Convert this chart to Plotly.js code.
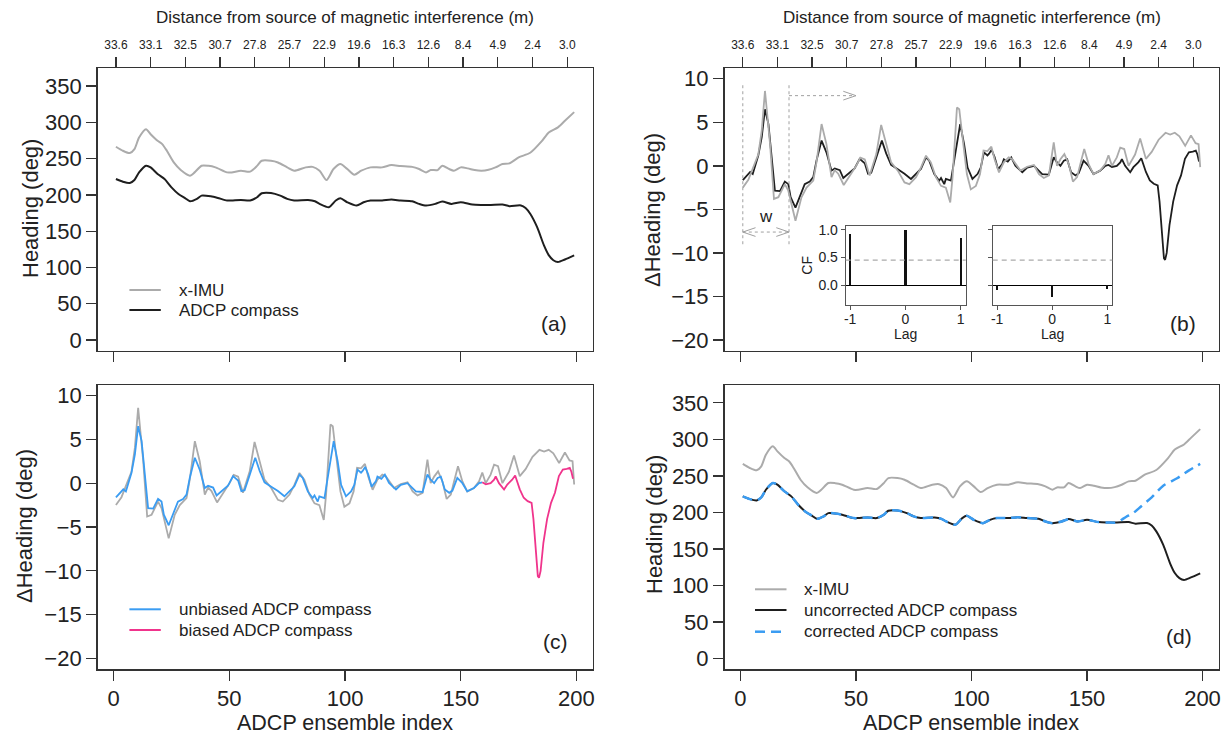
<!DOCTYPE html>
<html>
<head>
<meta charset="utf-8">
<script src="https://cdn.plot.ly/plotly-3.0.1.min.js"></script>
<style>html,body{margin:0;padding:0;background:#fff;}#chart{width:1228px;height:735px;}</style>
</head>
<body>
<div id="chart"></div>
<script>
// ---------------- data ----------------
const ENS_TICKS = [0, 50, 100, 150, 200];
const TOP_IDX = [1, 16, 31, 46, 61, 76, 91, 106, 121, 136, 151, 166, 181, 196];
const TOP_LABELS = ['33.6','33.1','32.5','30.7','27.8','25.7','22.9','19.6','16.3','12.6','8.4','4.9','2.4','3.0'];

// Heading (deg), x-IMU
const IMU_X = [1,4,7,9,11,14,16,19,21,23,26,29,33,35,38,41,44,49,51,55,59,62,64,68,71,75,78,83,86,89,92,95,98,101,104,107,111,116,120,124,129,132,135,137,140,142,145,147,150,153,156,159,162,165,168,171,175,180,185,188,192,195,199];
const IMU_H = [266.3,260.8,257.6,263,279,290.5,283.6,274.5,270,260.8,244.7,234.3,226.5,231,240.2,240,237.9,231,231,233.3,232,240,247,247,244.7,237.9,233.3,237.9,238.6,233.3,220.5,235.6,242.5,235.6,227.8,233.3,237.9,237.9,241.1,239.7,238.6,235.6,231,234.2,234.2,240.2,235.6,233.3,237.9,236.5,234.2,233.3,234.6,237.9,242.5,243.4,251.6,258,274,286,293,302,314];

// Heading (deg), ADCP compass (uncorrected)
const ADCP_X = [1,4,7,9,11,14,16,19,22,25,28,31,33,36,38,42,45,49,51,55,59,62,64,68,72,75,78,84,87,89,93,96,98,101,105,108,111,116,120,124,129,132,135,139,142,146,150,155,159,163,168,171,176,178,180,183,186,188,190,192,195,199];
const ADCP_H = [221.9,218.2,216.4,220.5,231,240.2,237.9,228.8,221.9,210.4,201.3,195.3,191.2,194.5,199,198,195.8,192.2,192.2,193,192.2,196.7,202.2,202.6,199,194.5,192.2,193,191.2,187.6,183,192.2,195.3,189.8,185.3,189.8,192.2,192.2,193.5,192.2,191.2,187.6,185.3,187.6,190.8,187.6,189.8,186.7,186.2,186.2,186.7,184.5,185.5,182,174,155.5,130,117,110,107.5,111,116.6];

// Corrected ADCP compass: departs from the uncorrected record from this index on
const CORR_FROM = 163;
const CORR_X = [163,165,167,170,173,178,183,189,194,199];
const CORR_H = [186.2,190,194,199,207,220.6,236.6,246.7,257.2,266.3];

// Delta heading (deg), x-IMU
const DIMU_X = [1,3.4,7.7,9.2,10.6,12.8,14.5,16.4,19.2,20.7,23.8,26.4,28.6,31.5,32.9,35.1,37.2,39.4,40.8,42.3,44.7,47.3,50.1,51.9,53.8,55.9,58.8,60.9,63.1,65.2,68.1,71,73.1,76,78.1,80.3,82.4,84.6,86.8,88.9,90.8,91.8,93.7,94.7,96.1,98,99.7,101.9,103.7,105.2,106.9,108.6,110,111.9,114,116.1,117.6,121.2,124.1,127,129.2,131.3,133.5,135.6,137,138.5,140.2,142.1,143.9,145.7,147.1,148.8,150.7,152.8,155.7,157.9,159.3,160.8,162.9,164.4,166.1,168,170.8,173,175.5,178,181,184,186,188,190,192.5,195,197,198.3,199];
const DIMU_Y = [-2.5,-1.6,1.3,4.05,8.6,2.5,-3.8,-3.6,-2.1,-2.85,-6.3,-3.6,-2.5,-1.7,0.4,4.8,2.5,-1.3,-0.5,-0.9,-2.2,-1.1,0,0.95,0.75,-1.1,1.35,4.7,2.5,0.4,-0.55,-1.9,-2.1,-1.3,-0.2,1.17,0.4,-1.3,-2.3,-2.5,-4.2,-1.3,6.7,6.5,3.3,-0.94,-2.7,-2.3,-0.94,1.75,1.7,2.2,0.75,-0.75,0.4,0.97,0.8,-0.55,-0.1,0.1,-0.94,-1.4,-1.1,2.7,0,0.75,1.35,0.2,-1.8,-1.3,0.2,1.93,0.2,-0.94,-0.55,0.2,1.2,0,0.97,2.1,1.93,0,1.3,3.15,0.8,1.6,3.0,3.8,3.6,3.8,3.4,2.3,3.5,2.6,2.5,-0.15];

// Delta heading (deg), ADCP compass
const DADCP_X = [1,3.4,4.2,5.3,7.7,9.2,10.6,12.1,13.5,14.9,17.1,19.2,20.7,21.7,23.8,25.7,27.8,30,31.5,32.9,35.1,37.2,39.4,40.8,43,44.5,46.6,49.4,51.6,53.8,55.2,56.6,58.8,61.2,63.1,65.2,68.1,71,73.8,76,78.1,80.3,81.7,83.9,86,86.8,88.2,88.9,91.1,93.2,95.1,96.8,98.3,100.4,102.6,104,105.4,106.9,107.6,108.7,110,111.5,113.3,114,115.7,117.2,119,122,124.1,127,128.5,130.6,133.5,135.6,137,138.5,140,141.4,143.1,145,146.4,148.5,150.7,152.8,155.7,157.9,159.3,160.8,162.9,164.4,165.1,166.5,168.7,170.1,172.2,173.5,175.5,177.2,178.9,180.6,181.4,182,182.6,183.3,183.8,184.5,185.7,187.3,189,190.7,192.4,194.1,195.8,197.1,197.8,198.5];
const DADCP_Y = [-1.63,-0.94,-0.7,-0.94,1.17,3.3,6.5,4.8,0.6,-2.85,-2.9,-1.8,-2.1,-3.6,-4.8,-3.4,-2.1,-1.8,-1.3,0.6,2.9,1.55,-0.55,-0.3,-0.5,-1.4,-0.9,-0.3,0.8,0.3,-0.9,-0.8,0.95,2.9,1.4,0.1,-0.4,-0.9,-1.5,-0.9,-0.36,0.98,0.6,-0.94,-1.7,-1.4,-2.1,-1.5,-1.7,1.75,4.8,2.5,-0.2,-1.5,-0.94,-0.2,1.55,1.2,1.4,1.85,1.0,-0.4,0.2,0.75,0.5,0.97,0.02,-0.73,-0.2,0,-0.4,-0.94,-1.0,0.98,0.4,0,0.6,0.75,-0.73,-1.1,-0.85,0.6,0,-0.94,-0.55,0,0.1,-0.13,0,0.4,0.76,0,-0.73,-0.15,0.4,0.87,-0.7,-1.67,-2.05,-2.24,-4.1,-6.2,-8.7,-10.6,-10.8,-10.0,-6.8,-4.1,-2.24,-1.1,0.8,1.56,1.63,1.75,1.3,0.5];
// first index of the biased part of the ADCP record
const BIAS_FROM = 159.3;

// Cross-correlation insets
const LAGS = [-1, 0, 1];
const CF_LEFT = [0.92, 1.0, 0.85];
const CF_RIGHT = [-0.08, -0.2, -0.07];
const CF_LIMIT = 0.455;

// ---------------- helpers ----------------
const W = 1228, H = 735;
const px = v => v / W;
const py = v => 1 - v / H;
const FONT = 'Liberation Sans, Arial, Helvetica, sans-serif';
const TXT = '#222';
const XR = [-6.92, 206.92];
const HR = [-14.4, 374.4];
const DR = [-21.2, 11.2];
const A_X = [px(97.6), px(592.5)];
const B_X = [px(724.5), px(1218.5)];
const TOP_Y = [py(350.5), py(68.3)];
const BOT_Y = [py(669), py(385)];

const GRAY = '#ababab', BLACK = '#1e1e1e', BLUE = '#3a9cf2', PINK = '#f0348c';

function box(extra) {
  return Object.assign({
    showline: true, mirror: true, linecolor: '#333', linewidth: 1.5,
    ticks: 'outside', ticklen: 10, tickwidth: 1.3, tickcolor: '#333',
    showgrid: false, zeroline: false, fixedrange: true,
    tickfont: {family: FONT, size: 22, color: TXT}
  }, extra);
}
function topAxis(over, anchor) {
  return {
    overlaying: over, anchor: anchor, side: 'top', range: XR,
    tickmode: 'array', tickvals: TOP_IDX, ticktext: TOP_LABELS,
    ticks: 'outside', ticklen: 10, tickwidth: 1.3, tickcolor: '#333',
    showline: false, showgrid: false, zeroline: false,
    tickfont: {family: FONT, size: 12, color: TXT}, ticklabelstandoff: 4
  };
}
function inset(dom, anchor, labels) {
  return {
    x: {domain: dom, anchor: anchor.y, range: [-1.08, 1.09], tickmode: 'array', tickvals: LAGS,
        ticktext: LAGS.map(String), showline: true, mirror: true, linecolor: '#555', linewidth: 1,
        ticks: 'outside', ticklen: 4, tickcolor: '#555', showgrid: false, zeroline: false,
        ticklabelstandoff: -3,
        tickfont: {family: FONT, size: 14, color: TXT}},
    y: {domain: [py(305), py(225.7)], anchor: anchor.x, range: [-0.35, 1.07], tickmode: 'array',
        tickvals: [0, 0.5, 1], ticktext: ['0.0', '0.5', '1.0'], showticklabels: labels,
        showline: true, mirror: true, linecolor: '#555', linewidth: 1,
        ticks: 'outside', ticklen: 4, tickcolor: '#555', showgrid: false,
        zeroline: true, zerolinecolor: '#000', zerolinewidth: 1.3,
        tickfont: {family: FONT, size: 14, color: TXT}}
  };
}

// splits
const blueX = [], blueY = [], pinkX = [], pinkY = [];
DADCP_X.forEach((x, k) => {
  if (x <= BIAS_FROM) { blueX.push(x); blueY.push(DADCP_Y[k]); }
  if (x >= BIAS_FROM) { pinkX.push(x); pinkY.push(DADCP_Y[k]); }
});
const corrX = [], corrY = [];
ADCP_X.forEach((x, k) => { if (x < CORR_FROM) { corrX.push(x); corrY.push(ADCP_H[k]); } });
CORR_X.forEach((x, k) => { corrX.push(x); corrY.push(CORR_H[k]); });

const sm = {shape: 'spline', smoothing: 0.7};
const traces = [
  // (a)
  {x: IMU_X, y: IMU_H, xaxis: 'x5', yaxis: 'y', mode: 'lines', line: Object.assign({color: GRAY, width: 2}, sm), hoverinfo: 'skip'},
  {x: ADCP_X, y: ADCP_H, xaxis: 'x', yaxis: 'y', mode: 'lines', line: Object.assign({color: BLACK, width: 2}, sm), hoverinfo: 'skip'},
  // (b)
  {x: DIMU_X, y: DIMU_Y, xaxis: 'x6', yaxis: 'y2', mode: 'lines', line: {color: GRAY, width: 1.8}, hoverinfo: 'skip'},
  {x: DADCP_X, y: DADCP_Y, xaxis: 'x2', yaxis: 'y2', mode: 'lines', line: {color: BLACK, width: 1.8}, hoverinfo: 'skip'},
  // (c)
  {x: DIMU_X, y: DIMU_Y, xaxis: 'x3', yaxis: 'y3', mode: 'lines', line: {color: GRAY, width: 1.8}, hoverinfo: 'skip'},
  {x: blueX, y: blueY, xaxis: 'x3', yaxis: 'y3', mode: 'lines', line: {color: BLUE, width: 1.8}, hoverinfo: 'skip'},
  {x: pinkX, y: pinkY, xaxis: 'x3', yaxis: 'y3', mode: 'lines', line: {color: PINK, width: 1.8}, hoverinfo: 'skip'},
  // (d)
  {x: IMU_X, y: IMU_H, xaxis: 'x4', yaxis: 'y4', mode: 'lines', line: Object.assign({color: GRAY, width: 2}, sm), hoverinfo: 'skip'},
  {x: ADCP_X, y: ADCP_H, xaxis: 'x4', yaxis: 'y4', mode: 'lines', line: Object.assign({color: BLACK, width: 2}, sm), hoverinfo: 'skip'},
  {x: corrX, y: corrY, xaxis: 'x4', yaxis: 'y4', mode: 'lines', line: Object.assign({color: BLUE, width: 2.5, dash: '10px,6px'}, sm), hoverinfo: 'skip'},
  // insets
  {type: 'bar', x: LAGS, y: CF_LEFT, xaxis: 'x7', yaxis: 'y7', width: 0.04, marker: {color: '#111'}, hoverinfo: 'skip'},
  {type: 'bar', x: LAGS, y: CF_RIGHT, xaxis: 'x8', yaxis: 'y8', width: 0.04, marker: {color: '#111'}, hoverinfo: 'skip'}
];

const in1 = inset([px(845.7), px(965.7)], {x: 'x7', y: 'y7'}, true);
const in2 = inset([px(992.7), px(1112.3)], {x: 'x8', y: 'y8'}, false);

const layout = {
  width: W, height: H, margin: {l: 0, r: 0, t: 0, b: 0},
  paper_bgcolor: '#fff', plot_bgcolor: '#fff', showlegend: false,
  font: {family: FONT, color: TXT},
  xaxis: box({domain: A_X, anchor: 'y', range: XR, tickvals: ENS_TICKS, showticklabels: false}),
  yaxis: box({domain: TOP_Y, anchor: 'x', range: HR, tickvals: [0,50,100,150,200,250,300,350]}),
  xaxis2: box({domain: B_X, anchor: 'y2', range: XR, tickvals: ENS_TICKS, showticklabels: false}),
  yaxis2: box({domain: TOP_Y, anchor: 'x2', range: DR, tickvals: [-20,-15,-10,-5,0,5,10]}),
  xaxis3: box({domain: A_X, anchor: 'y3', range: XR, tickvals: ENS_TICKS, ticklabelstandoff: -1}),
  yaxis3: box({domain: BOT_Y, anchor: 'x3', range: DR, tickvals: [-20,-15,-10,-5,0,5,10]}),
  xaxis4: box({domain: B_X, anchor: 'y4', range: XR, tickvals: ENS_TICKS, ticklabelstandoff: -1}),
  yaxis4: box({domain: BOT_Y, anchor: 'x4', range: HR, tickvals: [0,50,100,150,200,250,300,350]}),
  xaxis5: topAxis('x', 'y'),
  xaxis6: topAxis('x2', 'y2'),
  xaxis7: in1.x, yaxis7: in1.y, xaxis8: in2.x, yaxis8: in2.y,
  bargap: 0
};

const f = (size) => ({family: FONT, size: size, color: TXT});
const ann = [];
function A(text, x, y, size, opts) {
  ann.push(Object.assign({text: text, x: px(x), y: py(y), xref: 'paper', yref: 'paper',
    showarrow: false, font: f(size), xanchor: 'center', yanchor: 'middle'}, opts || {}));
}
const TOP_TITLE = 'Distance from source of magnetic interference (m)';
A(TOP_TITLE, 345, 18, 17);
A(TOP_TITLE, 971.5, 18, 17);
A('Heading (deg)', 30, 209, 22, {textangle: -90});
A('ΔHeading (deg)', 652, 210, 22, {textangle: -90});
A('ΔHeading (deg)', 24, 526, 22, {textangle: -90});
A('Heading (deg)', 654, 525, 22, {textangle: -90});
A('ADCP ensemble index', 345, 723, 21.5);
A('ADCP ensemble index', 971, 723, 21.5);
A('(a)', 553.5, 323, 21);
A('(b)', 1183.4, 323, 21);
A('(c)', 555.3, 641.7, 21);
A('(d)', 1179, 636.7, 21);
// legends text
A('x-IMU', 176.5, 290, 17, {xanchor: 'left'});
A('ADCP compass', 176.5, 310, 17, {xanchor: 'left'});
A('unbiased ADCP compass', 177, 609.3, 17, {xanchor: 'left'});
A('biased ADCP compass', 177, 630, 17, {xanchor: 'left'});
A('x-IMU', 802, 589.3, 17, {xanchor: 'left'});
A('uncorrected ADCP compass', 802, 610, 17, {xanchor: 'left'});
A('corrected ADCP compass', 802, 631.7, 17, {xanchor: 'left'});
// inset labels
A('CF', 806.7, 265, 14, {textangle: -90});
A('Lag', 905.3, 334, 14);
A('Lag', 1052.3, 334, 14);
// window label in (b)
ann.push({text: 'w', x: 11.2, y: -5.8, xref: 'x2', yref: 'y2', showarrow: false, font: f(17), xanchor: 'center', yanchor: 'middle'});
layout.annotations = ann;

const shapes = [];
function L(x0, y0, x1, y1, color, width, dash) {
  shapes.push({type: 'line', xref: 'paper', yref: 'paper', x0: px(x0), y0: py(y0), x1: px(x1), y1: py(y1),
    line: {color: color, width: width, dash: dash || 'solid'}});
}
// legend samples
L(129.4, 290, 160.8, 290, GRAY, 2);
L(129.4, 310, 160.8, 310, BLACK, 2);
L(129.4, 609.3, 160.8, 609.3, BLUE, 2);
L(129.4, 630, 160.8, 630, PINK, 2);
L(755, 589.3, 786.5, 589.3, GRAY, 2);
L(755, 610, 786.5, 610, BLACK, 2);
L(755, 631.7, 786.5, 631.7, BLUE, 2.5, '10px,6px');
// window markers in (b), data coordinates
function D(x0, y0, x1, y1, dash) {
  shapes.push({type: 'line', xref: 'x2', yref: 'y2', x0: x0, y0: y0, x1: x1, y1: y1,
    line: {color: '#a0a0a0', width: 1, dash: dash || 'solid'}});
}
const WIN = [1, 21], SHIFT_TO = 50, ARROW_Y = 8.06, WIN_Y = -7.6;
D(WIN[0], -9, WIN[0], 9.3, 'dot');
D(WIN[1], -9, WIN[1], 9.3, 'dot');
D(WIN[1], ARROW_Y, SHIFT_TO, ARROW_Y, 'dot');
D(SHIFT_TO, ARROW_Y, SHIFT_TO - 5.5, ARROW_Y + 0.5);
D(SHIFT_TO, ARROW_Y, SHIFT_TO - 5.5, ARROW_Y - 0.5);
D(WIN[0], WIN_Y, WIN[1], WIN_Y, 'dot');
D(WIN[0], WIN_Y, WIN[0] + 5.5, WIN_Y + 0.5);
D(WIN[0], WIN_Y, WIN[0] + 5.5, WIN_Y - 0.5);
D(WIN[1], WIN_Y, WIN[1] - 5.5, WIN_Y + 0.5);
D(WIN[1], WIN_Y, WIN[1] - 5.5, WIN_Y - 0.5);
// CF significance lines in insets
shapes.push({type: 'line', xref: 'x7 domain', yref: 'y7', x0: 0, x1: 1, y0: CF_LIMIT, y1: CF_LIMIT, line: {color: '#aaa', width: 1.2, dash: '5px,4px'}});
shapes.push({type: 'line', xref: 'x8 domain', yref: 'y8', x0: 0, x1: 1, y0: CF_LIMIT, y1: CF_LIMIT, line: {color: '#aaa', width: 1.2, dash: '5px,4px'}});
layout.shapes = shapes;

Plotly.newPlot('chart', traces, layout, {displayModeBar: false, staticPlot: true});
</script>
</body>
</html>
